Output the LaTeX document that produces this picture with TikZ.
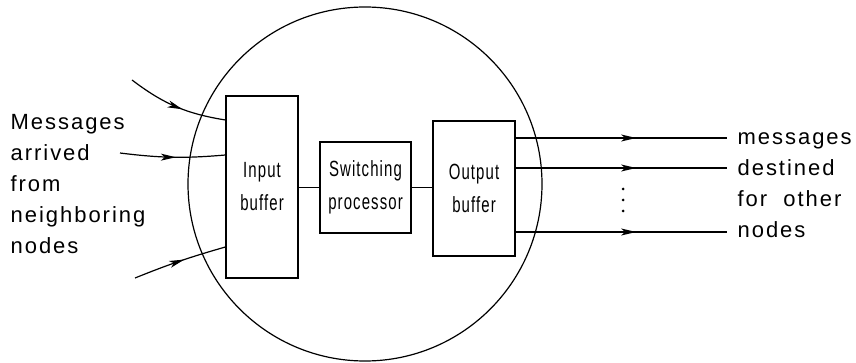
\documentclass[tikz,border=0pt]{standalone}
\usepackage{fontspec}
\setmainfont{Liberation Sans}
\newfontfamily\lblfont[LetterSpace=9]{Liberation Sans}
\newfontfamily\boxfont[FakeStretch=0.68,LetterSpace=5]{Liberation Sans}
\usetikzlibrary{arrows.meta,decorations.markings}
\begin{document}
\begin{tikzpicture}[x=1pt,y=-1pt,line width=1.2pt,
  buf/.style={draw,inner sep=0pt,font=\boxfont\fontsize{22}{33}\selectfont,align=center},
  lbl/.style={font=\lblfont\fontsize{22}{31}\selectfont,align=left,inner sep=0pt},
  midarrow/.style={postaction={decorate},decoration={markings,mark=at position #1 with {\arrow{Stealth[length=15pt,width=7pt,inset=4pt]}}}}
]
\useasboundingbox (0,0) rectangle (856,363);
% node circle
\node[draw,circle,minimum size=354pt,inner sep=0pt] (router) at (365,184) {};
% boxes
\node[buf,minimum width=72pt,minimum height=182pt] (ib) at (262,187) {Input\\buffer};
\node[buf,minimum width=91pt,minimum height=91pt] (sp) at (365.5,187.5) {Switching\\processor};
\node[buf,minimum width=82pt,minimum height=135pt] (ob) at (474,188.5) {Output\\buffer};
\draw (ib.east |- sp.west) -- (sp.west);
\draw (sp.east) -- (ob.west |- sp.east);
% incoming
\coordinate (in1) at (132,80);
\coordinate (in2) at (120,153);
\coordinate (in3) at (135,278);
\draw[midarrow=0.57] (in1) to[bend right=14] ([yshift=67pt]ib.west);
\draw[midarrow=0.53] (in2) to[bend right=6] ([yshift=32pt]ib.west);
\draw[midarrow=0.55] (in3) to[bend left=3] ([yshift=-60pt]ib.west);
% outgoing
\coordinate (out1) at (727,138);
\coordinate (out2) at (727,168);
\coordinate (out3) at (727,232);
\draw[midarrow=0.57] (ob.east |- out1) -- (out1);
\draw[midarrow=0.57] (ob.east |- out2) -- (out2);
\draw[midarrow=0.57] (ob.east |- out3) -- (out3);
\fill (623,189) circle (1.5pt);
\fill (623,200) circle (1.5pt);
\fill (623,211) circle (1.5pt);
% labels
\node[lbl,anchor=west] (inlbl) at (10,184) {Messages\\arrived\\from\\neighboring\\nodes};
\node[lbl,anchor=west] (outlbl) at (737,185) {messages\\destined\\for\ \ other\\nodes};
\end{tikzpicture}
\end{document}
